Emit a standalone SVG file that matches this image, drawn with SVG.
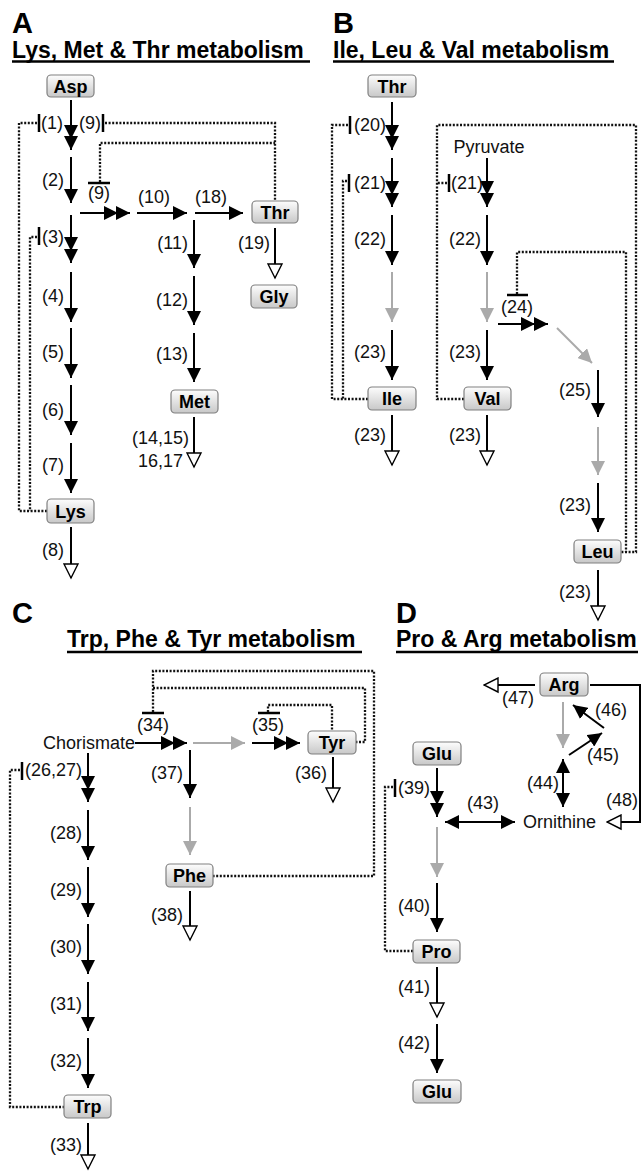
<svg xmlns="http://www.w3.org/2000/svg" width="643" height="1171" viewBox="0 0 643 1171">
<defs>
<linearGradient id="ng" x1="0" y1="0" x2="0" y2="1"><stop offset="0" stop-color="#fdfdfd"/><stop offset="1" stop-color="#c8c8c8"/></linearGradient>
<marker id="ah" markerUnits="userSpaceOnUse" markerWidth="14" markerHeight="14" viewBox="0 0 14 14" refX="14" refY="7" orient="auto"><path d="M0,0L14,7L0,14Z" fill="#000"/></marker>
<marker id="ahb" markerUnits="userSpaceOnUse" markerWidth="14" markerHeight="14" viewBox="0 0 14 14" refX="14" refY="7" orient="auto-start-reverse"><path d="M0,0L14,7L0,14Z" fill="#000"/></marker>
<marker id="ag" markerUnits="userSpaceOnUse" markerWidth="14" markerHeight="14" viewBox="0 0 14 14" refX="14" refY="7" orient="auto"><path d="M0,0L14,7L0,14Z" fill="#aaa"/></marker>
<marker id="ao" markerUnits="userSpaceOnUse" markerWidth="17" markerHeight="17" viewBox="-1.5 -1.5 17 17" refX="14" refY="7" orient="auto"><path d="M0,0L14,7L0,14Z" fill="#fff" stroke="#000" stroke-width="1.4"/></marker>
<style>
.t{font-family:"Liberation Sans",Arial,sans-serif;font-weight:bold;font-size:23px;fill:#000}
.p{font-family:"Liberation Sans",Arial,sans-serif;font-weight:bold;font-size:29px;fill:#000}
.l{font-family:"Liberation Sans",Arial,sans-serif;font-size:18px;fill:#111}
.e{text-anchor:end}
.m{text-anchor:middle}
.n rect{fill:url(#ng);stroke:#808080;stroke-width:1.2}
.n text{font-family:"Liberation Sans",Arial,sans-serif;font-weight:bold;font-size:18px;text-anchor:middle;fill:#000}
.u{stroke:#000;stroke-width:2.5}
.a{fill:none;stroke:#000;stroke-width:2;marker-end:url(#ah)}
.d{fill:none;stroke:#000;stroke-width:2;marker-mid:url(#ah);marker-end:url(#ah)}
.b{fill:none;stroke:#000;stroke-width:2;marker-start:url(#ahb);marker-end:url(#ahb)}
.g{fill:none;stroke:#aaa;stroke-width:2;marker-end:url(#ag)}
.o{fill:none;stroke:#000;stroke-width:2;marker-end:url(#ao)}
.x{fill:none;stroke:#000;stroke-width:2.5}
.dt{fill:none;stroke:#111;stroke-width:2.3;stroke-dasharray:2 1.6}
</style>
</defs>
<rect width="643" height="1171" fill="#fff"/>
<g id="titles">
<text class="p" x="12" y="33">A</text>
<text class="t" x="12" y="58">Lys, Met &amp; Thr metabolism</text>
<line class="u" x1="12" y1="61.5" x2="310" y2="61.5"/>
<text class="p" x="333" y="33">B</text>
<text class="t" x="333" y="58">Ile, Leu &amp; Val metabolism</text>
<line class="u" x1="333" y1="61.5" x2="614" y2="61.5"/>
<text class="p" x="12" y="623">C</text>
<text class="t" x="67" y="647">Trp, Phe &amp; Tyr metabolism</text>
<line class="u" x1="67" y1="652" x2="362" y2="652"/>
<text class="p" x="396" y="623">D</text>
<text class="t" x="396" y="647">Pro &amp; Arg metabolism</text>
<line class="u" x1="396" y1="652" x2="638" y2="652"/>
</g>
<g id="connectors">
<!-- Panel A -->
<polyline class="d" points="71,100 71,139 71,150"/>
<line class="x" x1="39" y1="114" x2="39" y2="132"/>
<line class="x" x1="103" y1="114" x2="103" y2="132"/>
<polyline class="dt" points="37,123 19,123 19,511 47,511"/>
<polyline class="dt" points="105,123 275,123 275,201"/>
<polyline class="dt" points="100,182 100,143 275,143"/>
<line class="x" x1="88" y1="183" x2="110" y2="183"/>
<line class="a" x1="71" y1="157" x2="71" y2="203"/>
<polyline class="d" points="80,213 118,213 130,213"/>
<line class="a" x1="137" y1="213" x2="187" y2="213"/>
<line class="a" x1="195" y1="213" x2="243" y2="213"/>
<line class="a" x1="194" y1="220" x2="194" y2="268"/>
<line class="a" x1="194" y1="276" x2="194" y2="325"/>
<line class="a" x1="194" y1="333" x2="194" y2="382"/>
<line class="o" x1="275" y1="228" x2="275" y2="278"/>
<polyline class="d" points="71,215 71,251 71,263"/>
<line class="x" x1="39" y1="227" x2="39" y2="245"/>
<polyline class="dt" points="37,237 30,237 30,511"/>
<line class="a" x1="71" y1="272" x2="71" y2="322"/>
<line class="a" x1="71" y1="328" x2="71" y2="378"/>
<line class="a" x1="71" y1="385" x2="71" y2="435"/>
<line class="a" x1="71" y1="443" x2="71" y2="493"/>
<line class="o" x1="71" y1="527" x2="71" y2="578"/>
<line class="o" x1="194" y1="417" x2="194" y2="467"/>
<!-- Panel B -->
<polyline class="d" points="392,102 392,139 392,150"/>
<line class="x" x1="350" y1="116" x2="350" y2="134"/>
<polyline class="dt" points="348,125 332,125 332,399 368,399"/>
<polyline class="d" points="392,158 392,195 392,207"/>
<line class="x" x1="349" y1="174" x2="349" y2="192"/>
<polyline class="dt" points="347,181 343,181 343,399"/>
<line class="a" x1="392" y1="215" x2="392" y2="265"/>
<line class="g" x1="392" y1="272" x2="392" y2="322"/>
<line class="a" x1="392" y1="330" x2="392" y2="380"/>
<line class="o" x1="392" y1="415" x2="392" y2="465"/>
<polyline class="d" points="487,158 487,195 487,207"/>
<line class="x" x1="449" y1="174" x2="449" y2="192"/>
<polyline class="dt" points="447,183 437,183"/>
<polyline class="dt" points="464,399 437,399 437,125 636,125 636,552 621,552"/>
<line class="a" x1="487" y1="215" x2="487" y2="265"/>
<line class="g" x1="487" y1="272" x2="487" y2="322"/>
<line class="a" x1="487" y1="330" x2="487" y2="380"/>
<line class="o" x1="487" y1="415" x2="487" y2="465"/>
<polyline class="d" points="498,324 535,324 548,324"/>
<line class="x" x1="507" y1="295" x2="528" y2="295"/>
<polyline class="dt" points="517,294 517,252 626,252 626,552"/>
<line class="g" x1="557" y1="328" x2="592" y2="363"/>
<line class="a" x1="598" y1="370" x2="598" y2="417"/>
<line class="g" x1="598" y1="427" x2="598" y2="475"/>
<line class="a" x1="598" y1="483" x2="598" y2="532"/>
<line class="o" x1="598" y1="570" x2="598" y2="620"/>
<!-- Panel C -->
<polyline class="d" points="135,743 175,743 187,743"/>
<line class="x" x1="142" y1="713" x2="164" y2="713"/>
<polyline class="dt" points="153,712 153,671 374,671 374,876 213,876"/>
<polyline class="dt" points="153,688 365,688 365,742 356,742"/>
<line class="g" x1="193" y1="743" x2="245" y2="743"/>
<polyline class="d" points="252,743 288,743 300,743"/>
<line class="x" x1="258" y1="713" x2="280" y2="713"/>
<polyline class="dt" points="268,712 268,705 332,705 332,731"/>
<line class="o" x1="333" y1="757" x2="333" y2="802"/>
<line class="a" x1="190" y1="750" x2="190" y2="798"/>
<line class="g" x1="190" y1="807" x2="190" y2="855"/>
<line class="o" x1="190" y1="891" x2="190" y2="940"/>
<polyline class="d" points="88,753 88,790 88,802"/>
<line class="x" x1="22" y1="762" x2="22" y2="780"/>
<polyline class="dt" points="20,770 10,770 10,1107 64,1107"/>
<line class="a" x1="88" y1="810" x2="88" y2="860"/>
<line class="a" x1="88" y1="867" x2="88" y2="917"/>
<line class="a" x1="88" y1="924" x2="88" y2="974"/>
<line class="a" x1="88" y1="982" x2="88" y2="1031"/>
<line class="a" x1="88" y1="1038" x2="88" y2="1088"/>
<line class="o" x1="88" y1="1123" x2="88" y2="1169"/>
<!-- Panel D -->
<polyline class="d" points="437,768 437,805 437,817"/>
<line class="x" x1="395" y1="779" x2="395" y2="797"/>
<polyline class="dt" points="393,787 385,787 385,951 413,951"/>
<line class="b" x1="445" y1="822" x2="515" y2="822"/>
<line class="g" x1="437" y1="827" x2="437" y2="877"/>
<line class="a" x1="437" y1="883" x2="437" y2="932"/>
<line class="o" x1="437" y1="967" x2="437" y2="1017"/>
<line class="a" x1="437" y1="1024" x2="437" y2="1073"/>
<line class="o" x1="535" y1="685" x2="484" y2="685"/>
<polyline class="o" points="590,685 640,685 640,822 607,822"/>
<line class="g" x1="563" y1="702" x2="563" y2="748"/>
<line class="b" x1="563" y1="759" x2="563" y2="807"/>
<line class="a" x1="569" y1="755" x2="602" y2="733"/>
<line class="a" x1="604" y1="728" x2="573" y2="705"/>
</g>
<g id="labels">
<text class="l e" x="63" y="129">(1)</text>
<text class="l" x="79" y="129">(9)</text>
<text class="l m" x="99" y="199">(9)</text>
<text class="l e" x="64" y="186">(2)</text>
<text class="l m" x="154" y="203">(10)</text>
<text class="l m" x="211" y="203">(18)</text>
<text class="l e" x="188" y="249">(11)</text>
<text class="l e" x="188" y="306">(12)</text>
<text class="l e" x="188" y="360">(13)</text>
<text class="l e" x="270" y="249">(19)</text>
<text class="l e" x="64" y="243">(3)</text>
<text class="l e" x="64" y="302">(4)</text>
<text class="l e" x="64" y="358">(5)</text>
<text class="l e" x="64" y="416">(6)</text>
<text class="l e" x="64" y="471">(7)</text>
<text class="l e" x="64" y="556">(8)</text>
<text class="l e" x="189" y="444">(14,15)</text>
<text class="l e" x="183" y="467">16,17</text>
<text class="l e" x="386" y="131">(20)</text>
<text class="l e" x="386" y="189">(21)</text>
<text class="l e" x="386" y="245">(22)</text>
<text class="l e" x="386" y="358">(23)</text>
<text class="l e" x="386" y="441">(23)</text>
<text class="l m" x="489" y="153">Pyruvate</text>
<text class="l e" x="483" y="189">(21)</text>
<text class="l e" x="481" y="245">(22)</text>
<text class="l e" x="481" y="358">(23)</text>
<text class="l e" x="481" y="441">(23)</text>
<text class="l m" x="517" y="313">(24)</text>
<text class="l e" x="591" y="396">(25)</text>
<text class="l e" x="591" y="511">(23)</text>
<text class="l e" x="591" y="598">(23)</text>
<text class="l e" x="135" y="749">Chorismate</text>
<text class="l m" x="153" y="731">(34)</text>
<text class="l m" x="268" y="731">(35)</text>
<text class="l e" x="327" y="779">(36)</text>
<text class="l e" x="183" y="779">(37)</text>
<text class="l e" x="183" y="921">(38)</text>
<text class="l e" x="82" y="776">(26,27)</text>
<text class="l e" x="82" y="839">(28)</text>
<text class="l e" x="82" y="896">(29)</text>
<text class="l e" x="82" y="953">(30)</text>
<text class="l e" x="82" y="1010">(31)</text>
<text class="l e" x="82" y="1067">(32)</text>
<text class="l e" x="82" y="1151">(33)</text>
<text class="l" x="398" y="794">(39)</text>
<text class="l m" x="483" y="809">(43)</text>
<text class="l" x="523" y="828">Ornithine</text>
<text class="l e" x="430" y="912">(40)</text>
<text class="l e" x="430" y="993">(41)</text>
<text class="l e" x="430" y="1049">(42)</text>
<text class="l" x="502" y="704">(47)</text>
<text class="l" x="606" y="806">(48)</text>
<text class="l e" x="559" y="789">(44)</text>
<text class="l" x="587" y="761">(45)</text>
<text class="l" x="595" y="716">(46)</text>
</g>
<g id="node-asp" class="n"><rect x="47" y="75" width="47" height="22" rx="4"/><text x="70.5" y="92.5">Asp</text></g>
<g id="node-thr-a" class="n"><rect x="252" y="201" width="46" height="22" rx="4"/><text x="275" y="218.5">Thr</text></g>
<g id="node-gly" class="n"><rect x="251" y="285" width="46" height="23" rx="4"/><text x="274" y="302.5">Gly</text></g>
<g id="node-met" class="n"><rect x="171" y="390" width="47" height="23" rx="4"/><text x="194.5" y="407.5">Met</text></g>
<g id="node-lys" class="n"><rect x="47" y="499" width="47" height="24" rx="4"/><text x="70.5" y="517.5">Lys</text></g>
<g id="node-thr-b" class="n"><rect x="368" y="75" width="48" height="22" rx="4"/><text x="392" y="92.5">Thr</text></g>
<g id="node-ile" class="n"><rect x="368" y="387" width="48" height="23" rx="4"/><text x="392" y="404.5">Ile</text></g>
<g id="node-val" class="n"><rect x="464" y="387" width="47" height="23" rx="4"/><text x="487.5" y="404.5">Val</text></g>
<g id="node-leu" class="n"><rect x="574" y="540" width="47" height="23" rx="4"/><text x="597.5" y="557.5">Leu</text></g>
<g id="node-tyr" class="n"><rect x="308" y="731" width="48" height="23" rx="4"/><text x="332" y="748.5">Tyr</text></g>
<g id="node-phe" class="n"><rect x="166" y="864" width="47" height="23" rx="4"/><text x="189.5" y="881.5">Phe</text></g>
<g id="node-trp" class="n"><rect x="64" y="1095" width="47" height="23" rx="4"/><text x="87.5" y="1112.5">Trp</text></g>
<g id="node-arg" class="n"><rect x="540" y="673" width="48" height="23" rx="4"/><text x="564" y="690.5">Arg</text></g>
<g id="node-glu" class="n"><rect x="413" y="742" width="48" height="23" rx="4"/><text x="437" y="759.5">Glu</text></g>
<g id="node-pro" class="n"><rect x="413" y="940" width="47" height="23" rx="4"/><text x="436.5" y="957.5">Pro</text></g>
<g id="node-glu2" class="n"><rect x="413" y="1080" width="48" height="23" rx="4"/><text x="437" y="1097.5">Glu</text></g>
</svg>
